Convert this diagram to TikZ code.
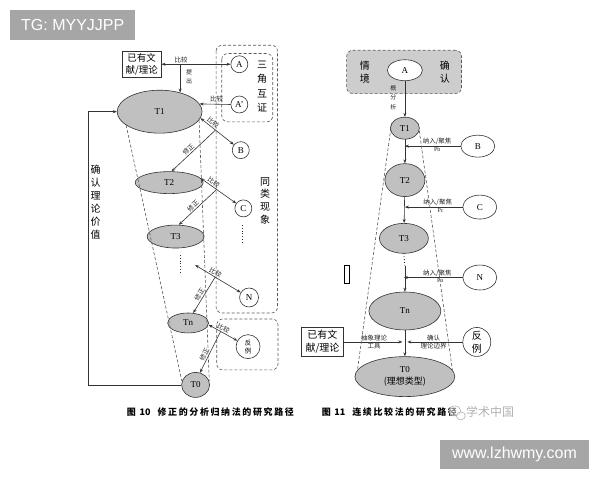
\documentclass[tikz,border=0pt]{standalone}
\usepackage{fontspec}
\setmainfont{Liberation Serif}
\newfontfamily\cjk{Noto Sans CJK SC}
\newfontfamily\cjkcap[LetterSpace=18]{Noto Sans CJK SC}
\newfontfamily\sfx{Liberation Sans}
\usetikzlibrary{shapes.geometric,arrows.meta}
\definecolor{gfill}{RGB}{192,192,192}
\definecolor{rfill}{RGB}{205,205,205}
\definecolor{labgray}{RGB}{166,166,166}
\begin{document}
\begin{tikzpicture}[x=1pt,y=-1pt, line width=0.6pt, >={Stealth[length=4pt,width=3pt]},
  every path/.style={draw=black!80},
  ell/.style={ellipse, draw=black!80, fill=gfill, inner sep=0pt, font=\fontsize{9}{10}\selectfont},
  circ/.style={circle, draw=black!80, fill=white, inner sep=0pt, minimum size=17pt, font=\fontsize{9}{10}\selectfont},
  lbl/.style={font=\cjk\fontsize{6.5}{7.5}\selectfont, inner sep=1pt, text=black!85},
  vtext/.style={align=center, inner sep=0pt},
  dbox/.style={draw=black!65, dash pattern=on 3pt off 2pt, rounded corners=6pt},
  cone/.style={draw=black!65, dash pattern=on 3pt off 2pt},
  captext/.style={font=\cjkcap\bfseries\fontsize{9}{10}\selectfont, anchor=west, inner sep=0pt},
]
\useasboundingbox (0,0) rectangle (600,480);
\fill[white] (0,0) rectangle (600,480);

% ---------- watermark labels ----------
\node[fill=labgray, text=white, font=\sfx\fontsize{16}{18}\selectfont, minimum width=125pt, minimum height=29.5pt, inner sep=0pt] (tg) at (72.5,24.7) {TG: MYYJJPP};
\node[fill=labgray, text=white, font=\sfx\fontsize{16}{18}\selectfont, minimum width=149.3pt, minimum height=29.3pt, inner sep=0pt] (url) at (514.7,454.7) {www.lzhwmy.com};

% ---------- left figure ----------
\draw[dbox] (216,45) rectangle (277.5,313);
\draw[dbox] (221.7,53.3) rectangle (272.7,121.7);
\draw[dbox] (216.7,319) rectangle (278,370);

\node[draw=black!80, align=center, font=\cjk\fontsize{9.5}{12}\selectfont, minimum width=39pt, minimum height=26pt, inner sep=1pt] (lit) at (141.5,64) {已有文\\献/理论};
\node[circ] (A) at (239.3,64) {A};
\node[circ] (A2) at (239.3,104.3) {A’};
\node[ell, minimum width=85pt, minimum height=43pt] (T1) at (159.5,111.5) {T1};
\node[circ] (B) at (240.7,150) {B};
\node[ell, minimum width=68pt, minimum height=22pt] (T2) at (169,182.5) {T2};
\node[circ] (C) at (243.3,208.3) {C};
\node[ell, minimum width=57pt, minimum height=23pt] (T3) at (175.5,236.5) {T3};
\node[circ, minimum size=19pt] (N) at (249,297.5) {N};
\node[ell, minimum width=41pt, minimum height=20pt] (Tn) at (188,323) {Tn};
\node[circ, minimum size=24pt] (FL) at (248,346.7) {};
\node[vtext, font=\cjk\fontsize{6.5}{8}\selectfont] (FLt) at (FL) {反\\例};
\node[ell, minimum width=28pt, minimum height=25pt] (T0) at (195.5,385) {T0};

\node[vtext, font=\cjk\fontsize{10}{14.5}\selectfont] (sj) at (262,86.5) {三\\角\\互\\证};
\node[vtext, font=\cjk\fontsize{10}{12.8}\selectfont] (tl) at (265,200.5) {同\\类\\现\\象};
\node[vtext, font=\cjk\fontsize{10}{13}\selectfont] (qr) at (95.5,202.5) {确\\认\\理\\论\\价\\值};

\draw[<->] (lit.east) -- (A.west);
\node[lbl] (l1) at (181,59.5) {比较};
\draw[->] (T1.43 |- A.west) -- (T1.43);
\node[lbl, align=center, font=\cjk\fontsize{6}{9}\selectfont] (l2) at (189,76.2) {提\\出};
\draw[->] (A2.west) -- (T1.11);
\node[lbl] (l3) at (216.5,98.5) {比较};

\draw[<->] (T1.-9) -- (B) coordinate[pos=0.45] (m1) node[lbl, sloped, above, pos=0.3] {比较};
\draw[->] (m1) -- (T2.78) node[lbl, sloped, above, pos=0.55] {修正};
\draw[<->] (T2.8) -- (C) coordinate[pos=0.45] (m2) node[lbl, sloped, above, pos=0.3] {比较};
\draw[->] (m2) -- (T3.75) node[lbl, sloped, above, pos=0.55] {修正};
\coordinate (Ti) at (195,265);
\draw[<->] (Ti) -- (N) coordinate[pos=0.44] (m3) node[lbl, sloped, above, pos=0.4] {比较};
\draw[->] (m3) -- (Tn.63) node[lbl, sloped, above, pos=0.55] {修正};
\draw[<->] (Tn.-5) -- (FL) coordinate[pos=0.42] (m4) node[lbl, sloped, above, pos=0.45] {比较};
\draw[->] (m4) -- (T0.70) node[lbl, sloped, above, pos=0.6] {修正};

\draw[dotted, line width=0.8pt] (180,255) -- (180,272);
\draw[dotted, line width=0.8pt] (242.7,225) -- (242.7,243);

\coordinate (fb) at (88.3,111.5);
\draw[->] (T0.west) -| (fb) -- (T1.west);

\draw[cone] (T1.202) -- (T0.165);
\draw[cone] (T1.-12) -- (T0.15);

% ---------- right figure ----------
\node[draw=black!65, dash pattern=on 3pt off 2pt, rounded corners=6pt, fill=rfill, minimum width=115pt, minimum height=43.3pt, inner sep=0pt] (RBox) at (404.2,71.7) {};
\node[ell, fill=white, minimum width=35pt, minimum height=21pt] (RA) at (405,70) {A};
\node[vtext, font=\cjk\fontsize{10}{13}\selectfont] (qj) at (365,71.5) {情\\境};
\node[vtext, font=\cjk\fontsize{10}{13}\selectfont] (qr2) at (445,71.5) {确\\认};
\node[ell, minimum width=29pt, minimum height=22pt] (RT1) at (405,128) {T1};
\node[ell, minimum width=40pt, minimum height=33pt] (RT2) at (405,180) {T2};
\node[ell, minimum width=49pt, minimum height=30pt] (RT3) at (404,238.3) {T3};
\node[ell, minimum width=72pt, minimum height=38pt] (RTn) at (405,311) {Tn};
\node[ell, minimum width=100pt, minimum height=40pt] (RT0) at (405,376.7) {};
\node[vtext, font=\fontsize{9}{12}\selectfont] (RT0t) at (RT0) {T0\\{\cjk (理想类型)}};
\node[ell, fill=white, minimum width=34pt, minimum height=22pt] (RB) at (478,146) {B};
\node[ell, fill=white, minimum width=34pt, minimum height=24pt] (RC) at (480,207) {C};
\node[ell, fill=white, minimum width=34pt, minimum height=25pt] (RN) at (480,277.5) {N};
\node[draw=black!80, align=center, font=\cjk\fontsize{10}{13}\selectfont, minimum width=41.6pt, minimum height=28.4pt, inner sep=1pt] (Rlit) at (322.5,342) {已有文\\献/理论};
\node[ell, fill=white, minimum width=28pt, minimum height=29pt] (RFL) at (477,342) {};
\node[vtext, font=\cjk\fontsize{10}{13}\selectfont] (RFLt) at (RFL) {反\\例};

\draw[->] (RA.south) -- (RT1.north);
\node[lbl, align=center, font=\cjk\fontsize{6}{9.5}\selectfont] (gfx) at (393.5,97.3) {概\\分\\析};
\draw[->] (RT1) -- (RT2);
\draw[->] (RT2) -- (RT3);
\coordinate (rd) at (405,266);
\draw[dotted, line width=0.8pt] (RT3.south) -- (rd);
\draw[->] (rd) -- (RTn.north);
\draw[->] (RTn) -- (RT0);

\draw[->] (RB.west) -- (RB.west -| RT1.south) node[lbl, pos=0.42, above] {纳入/聚焦} node[lbl, pos=0.42, below, font=\fontsize{6}{7}\selectfont] {Pb};
\draw[->] (RC.west) -- (RC.west -| RT2.south) node[lbl, pos=0.43, above] {纳入/聚焦} node[lbl, pos=0.38, below, font=\fontsize{6}{7}\selectfont] {Pc};
\draw[->] (RN.west) -- (RN.west -| RT3.south) node[lbl, pos=0.43, above] {纳入/聚焦} node[lbl, pos=0.38, below, font=\fontsize{6}{7}\selectfont] {Pn};

\coordinate (mid) at (RTn.south |- Rlit.east);
\draw[->, shorten >=2.5pt] (Rlit.east) -- (mid) node[lbl, midway, above] {抽象理论} node[lbl, midway, below] {工具};
\draw[->, shorten >=2.5pt] (RFL.west) -- (mid) node[lbl, midway, above] {确认} node[lbl, midway, below] {理论边界};

\draw[cone] (RT1.160) -- (RT0.172);
\draw[cone] (RT1.-10) -- (RT0.8);

\draw[line width=1.2pt, draw=black] (344.8,265.5) rectangle (349.5,283.5);

% ---------- captions ----------
\node[captext] (cap1) at (126.5,412) {图 {\cjk 10}\hspace{7pt}修正的分析归纳法的研究路径};
\node[captext] (cap2) at (321.5,412) {图 {\cjk 11}\hspace{7pt}连续比较法的研究路径};
\draw[black!30, fill=white, fill opacity=0.5] (455,411) ellipse (6pt and 5pt);
\draw[black!30, fill=white, fill opacity=0.5] (461,416) ellipse (4.5pt and 4pt);
\node[font=\cjk\fontsize{12}{14}\selectfont, text=black!30, anchor=west, inner sep=0pt] (wm) at (466,412) {学术中国};
\end{tikzpicture}
\end{document}
